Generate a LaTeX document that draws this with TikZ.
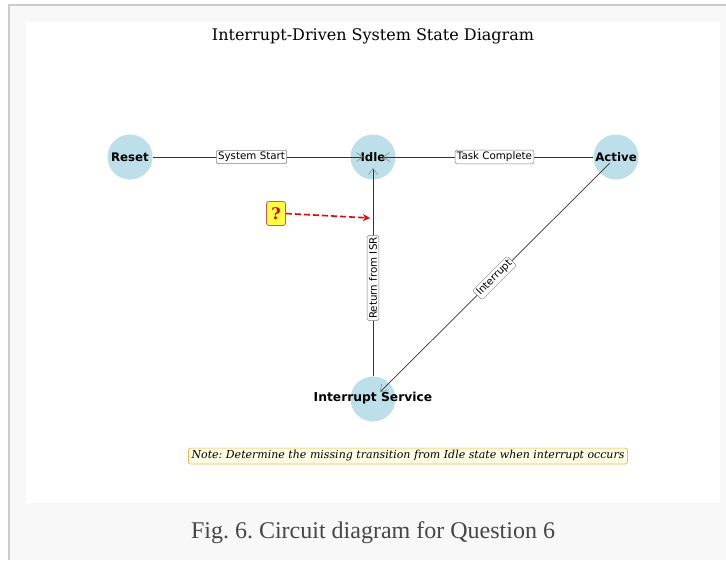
\documentclass[tikz,border=0pt]{standalone}
\usepackage{fontspec}
\setmainfont{DejaVu Serif}
\setsansfont{DejaVu Sans}
\newfontfamily\captionfont{Liberation Serif}
\usetikzlibrary{arrows.meta,calc}
\definecolor{statefill}{HTML}{BCDFEA}
\definecolor{pagegray}{HTML}{F8F8F8}
\definecolor{framegray}{HTML}{CCCCCC}
\definecolor{notefill}{HTML}{FFFDE3}
\definecolor{noteedge}{HTML}{F2B84B}
\definecolor{qfill}{HTML}{FFFF44}
\definecolor{qedge}{HTML}{E05050}
\frenchspacing
\tikzset{
  state/.style={circle, fill=statefill, draw=none, minimum size=45pt, inner sep=0pt,
    font=\sffamily\bfseries\fontsize{11.8}{13}\selectfont},
  edge/.style={draw=black!80, line width=0.7pt,
    -{Straight Barb[length=6pt,width=9pt,line width=0.6pt,color=black!45]}},
  elabel/.style={fill=white, draw=black!50, rounded corners=1.5pt, inner sep=1.8pt,
    line width=0.5pt, font=\sffamily\fontsize{10.3}{12}\selectfont},
}
\begin{document}
\begin{tikzpicture}[x=1pt,y=-1pt]
\useasboundingbox (0,0) rectangle (726,560);
% page frame and plotting panel
\fill[pagegray] (9,5) rectangle (726,560);
\draw[framegray, line width=1.5pt] (9,560) -- (9,5) -- (726,5);
\fill[white] (26,22) rectangle (720,503);

\node[font=\fontsize{16}{19}\selectfont] (title) at (373,36) {Interrupt-Driven System State Diagram};

% states
\node[state] (reset) at (130,157) {Reset};
\node[state] (idle) at (373,157) {Idle};
\node[state] (active) at (616,157) {Active};
\node[state] (isr) at (373,399) {};

% transitions
\draw[edge, shorten >=10pt] (reset) -- (idle.center);
\draw[edge, shorten >=10pt] (active) -- (idle.center);
\draw[edge, shorten >=11pt] (isr) -- (idle.center);
\draw[edge, shorten <=9pt, shorten >=10pt] (active.center) -- (isr.center);

% transition labels, centred between the two states
\node[elabel] (lstart) at ($(reset)!0.5!(idle)$) {System Start};
\node[elabel] (ltask) at ($(idle)!0.5!(active)$) {Task Complete};
\node[elabel, rotate=90] (lret) at ($(idle)!0.5!(isr)$) {Return from ISR};
\node[elabel, rotate=45] (lint) at ($(active)!0.5!(isr)$) {Interrupt};

% service label drawn over the incoming lines
\node[font=\sffamily\bfseries\fontsize{12.3}{14}\selectfont] (isrtext) at (373,398.5) {Interrupt Service};

% missing transition marker
\node[fill=qfill, draw=qedge, rounded corners=2.5pt, line width=0.8pt,
  minimum width=19pt, minimum height=24pt, inner sep=0pt,
  text=red!90!black, font=\bfseries\fontsize{16}{18}\selectfont] (q) at (276,213.5) {?};
\coordinate (qtarget) at (370,218);
\draw[red!95!black, line width=1.6pt, dash pattern=on 6pt off 3pt,
  -{Stealth[length=7pt,width=7pt,inset=2pt]}] (q.east) -- (qtarget);

% note
\node[fill=notefill, draw=noteedge, rounded corners=2pt, line width=0.7pt,
  inner xsep=3pt, inner ysep=2.5pt,
  font=\itshape\fontsize{11}{13}\selectfont] (note) at (408,456)
  {Note: Determine the missing transition from Idle state when interrupt occurs};

% caption
\node[text=black!72, font=\captionfont\fontsize{24}{28}\selectfont] (caption) at (373,532.5)
  {Fig. 6. Circuit diagram for Question 6};
\end{tikzpicture}
\end{document}
